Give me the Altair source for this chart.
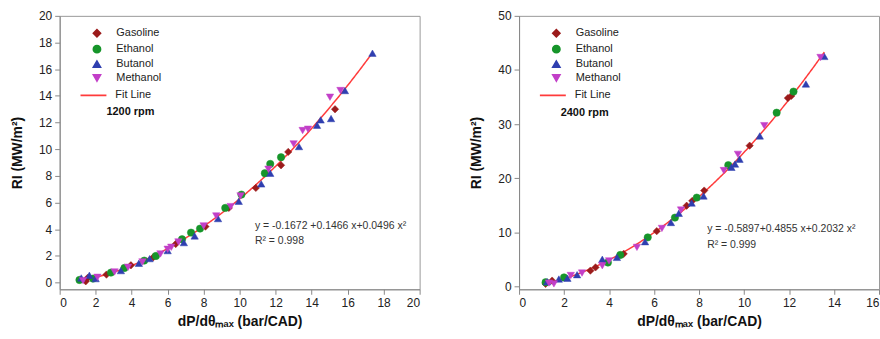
import altair as alt
import pandas as pd

FUELS = ["Gasoline", "Ethanol", "Butanol", "Methanol"]
COLORS = ["#9b1b1b", "#16952a", "#2f3fb0", "#c23fc8"]
SHAPES = ["diamond", "circle", "triangle-up", "triangle-down"]
FIT_NAME = ["Fit Line"]
FIT_COLOR = "#ff3b3b"

# ---- 1200 rpm ----
g12_x = [1.45, 1.55, 2.6, 3.96, 5.2, 6.45, 8.1, 9.4, 10.9, 12.3, 12.7, 15.3]
g12_y = [0.1, 0.35, 0.6, 1.3, 1.9, 2.9, 4.2, 5.6, 7.1, 8.8, 9.8, 13.0]
e12_x = [1.1, 1.85, 2.85, 3.6, 4.7, 5.35, 6.8, 7.3, 7.8, 9.2, 10.1, 11.4, 11.7, 12.3]
e12_y = [0.2, 0.3, 0.75, 1.1, 1.65, 2.0, 3.25, 3.75, 4.05, 5.6, 6.6, 8.2, 8.9, 9.4]
b12_x = [1.2, 1.65, 2.0, 3.4, 4.4, 5.0, 6.0, 6.9, 7.5, 8.8, 9.95, 11.2, 11.7,
         13.3, 14.3, 14.5, 15.08, 15.85, 17.38]
b12_y = [0.35, 0.55, 0.3, 0.9, 1.45, 1.8, 2.4, 3.0, 3.5, 4.8, 6.1, 7.4, 8.2,
         10.2, 11.8, 12.2, 12.3, 14.4, 17.2]
m12_x = [1.3, 2.1, 3.05, 3.8, 4.6, 5.6, 6.0, 6.2, 6.6, 8.0, 8.7, 9.5, 10.05,
         11.6, 13.0, 13.5, 13.8, 15.02, 15.6]
m12_y = [0.15, 0.4, 0.8, 1.15, 1.55, 2.15, 2.5, 2.65, 3.05, 4.25, 5.0, 5.7, 6.5,
         8.5, 10.4, 11.4, 11.5, 13.9, 14.4]

# ---- 2400 rpm ----
g24_x = [1.18, 1.47, 3.17, 3.4, 4.65, 6.12, 7.45, 7.7, 8.23, 10.25, 11.95, 12.1]
g24_y = [0.45, 1.05, 2.9, 3.5, 6.0, 10.2, 14.9, 15.8, 17.7, 26.0, 34.8, 35.2]
e24_x = [1.18, 2.0, 3.95, 4.5, 5.72, 6.93, 7.9, 9.3, 11.45, 12.2]
e24_y = [0.75, 1.65, 4.4, 5.8, 9.05, 12.7, 16.4, 22.4, 32.1, 36.0]
b24_x = [1.25, 1.77, 2.15, 2.58, 3.7, 4.35, 5.6, 6.75, 7.1, 7.67, 8.2, 9.44,
         9.6, 9.8, 10.7, 12.75, 13.57]
b24_y = [0.85, 1.35, 1.5, 2.15, 5.0, 5.35, 8.25, 11.8, 13.5, 15.4, 16.7, 22.0,
         22.6, 23.5, 27.8, 37.4, 42.5]
m24_x = [1.33, 1.55, 2.3, 2.8, 3.7, 4.0, 5.24, 6.35, 7.2, 9.1, 9.73, 10.9, 13.4]
m24_y = [0.6, 0.45, 2.0, 2.45, 3.8, 4.7, 7.2, 10.7, 14.1, 21.4, 24.4, 29.7, 42.3]

# annotation text and anchor (data units)
rpm_labels = ["1200 rpm", "2400 rpm"]
rpm_pos = [(2.6, 12.8), (1.85, 32.0)]
eq_labels = [["y = -0.1672 +0.1466 x+0.0496 x²", "R² = 0.998"],
             ["y = -0.5897+0.4855 x+0.2032 x²", "R² = 0.999"]]
eq_pos = [[(10.85, 4.0), (10.85, 2.9)], [(8.36, 10.0), (8.36, 7.0)]]

x_ticks = [list(range(0, 21, 2)), list(range(0, 17, 2))]
y_ticks = [list(range(0, 21, 2)), list(range(0, 51, 10))]
x_dom = [[0, 20], [0, 16]]
y_dom = [[-0.5, 20], [-0.55, 50]]

FONT = "Liberation Sans"


def make_df(groups):
    rows = []
    for name, xs, ys in groups:
        for a, b in zip(xs, ys):
            rows.append({"x": a, "y": b, "series": name})
    return pd.DataFrame(rows)


def panel(i, df):
    xs = alt.Scale(domain=x_dom[i], nice=False, zero=False)
    ys = alt.Scale(domain=y_dom[i], nice=False, zero=False)
    xax = alt.Axis(values=x_ticks[i], title="dP/dθₘₐₓ (bar/CAD)", grid=False, labelOverlap=False)
    yax = alt.Axis(values=y_ticks[i], title="RI (MW/m²)", grid=False, labelOverlap=False)
    xe = alt.X("x:Q", scale=xs, axis=xax)
    ye = alt.Y("y:Q", scale=ys, axis=yax)
    col_sc = alt.Scale(domain=FUELS, range=COLORS)
    shape_sc = alt.Scale(domain=FUELS, range=SHAPES)
    leg = alt.Legend(
        orient="none", legendX=32, legendY=12, title=None,
        labelFontSize=11, labelColor="#222", labelFont=FONT,
        rowPadding=1, labelOffset=14, padding=0, symbolSize=55,
    )
    leg_fit = alt.Legend(
        orient="none", legendX=20, legendY=66, title=None,
        labelFontSize=11, labelColor="#222", labelFont=FONT,
        labelOffset=8, padding=0, symbolType="stroke", symbolSize=680,
        symbolStrokeColor=FIT_COLOR, symbolStrokeWidth=1.6,
    )
    base = alt.Chart(df)
    pts = base.mark_point(filled=True, opacity=1, strokeWidth=0.5, size=55).encode(
        x=xe, y=ye,
        fill=alt.Fill("series:N", scale=col_sc, legend=leg),
        stroke=alt.Stroke("series:N", scale=col_sc, legend=leg),
        shape=alt.Shape("series:N", scale=shape_sc, legend=leg),
    )
    fit = base.transform_regression("x", "y", method="poly", order=2).transform_calculate(
        fit="'Fit Line'"
    ).mark_line(strokeWidth=1.5, color=FIT_COLOR).encode(
        x=xe, y=ye,
        strokeDash=alt.StrokeDash("fit:N", scale=alt.Scale(domain=FIT_NAME, range=[[1, 0]]),
                                  legend=leg_fit),
    )
    rpm_df = pd.DataFrame([{"x": rpm_pos[i][0], "y": rpm_pos[i][1], "t": rpm_labels[i]}])
    rpm = alt.Chart(rpm_df).mark_text(
        align="left", baseline="middle", fontSize=11, fontWeight="bold", font=FONT, color="#111"
    ).encode(x=xe, y=ye, text="t:N")
    eq_df = pd.DataFrame([{"x": p[0], "y": p[1], "t": t} for p, t in zip(eq_pos[i], eq_labels[i])])
    eq = alt.Chart(eq_df).mark_text(
        align="left", baseline="alphabetic", fontSize=10.5, font=FONT, color="#333"
    ).encode(x=xe, y=ye, text="t:N")
    return alt.layer(fit, pts, rpm, eq).properties(width=362, height=275)


df12 = make_df([("Gasoline", g12_x, g12_y), ("Ethanol", e12_x, e12_y),
                ("Butanol", b12_x, b12_y), ("Methanol", m12_x, m12_y)])
df24 = make_df([("Gasoline", g24_x, g24_y), ("Ethanol", e24_x, e24_y),
                ("Butanol", b24_x, b24_y), ("Methanol", m24_x, m24_y)])

left = panel(0, df12)
right = panel(1, df24)

chart = alt.hconcat(left, right, spacing=49).resolve_scale(
    fill="independent", stroke="independent", shape="independent", strokeDash="independent",
    x="independent", y="independent"
).resolve_legend(fill="independent", stroke="independent", shape="independent",
                 strokeDash="independent").properties(
    padding={"left": 10, "top": 8, "right": 0, "bottom": 0}, background="white"
).configure_view(stroke="#999", strokeWidth=1).configure_axis(
    labelFont=FONT, titleFont=FONT, labelFontSize=12, titleFontSize=14, titleFontWeight="bold",
    labelColor="#222", titleColor="#111", domainColor="#888", tickColor="#888", tickSize=5,
    labelPadding=3,
).configure_axisY(titlePadding=14).configure_axisX(titlePadding=6)

chart.save("out.html", embed_options={"renderer": "svg", "actions": False})
